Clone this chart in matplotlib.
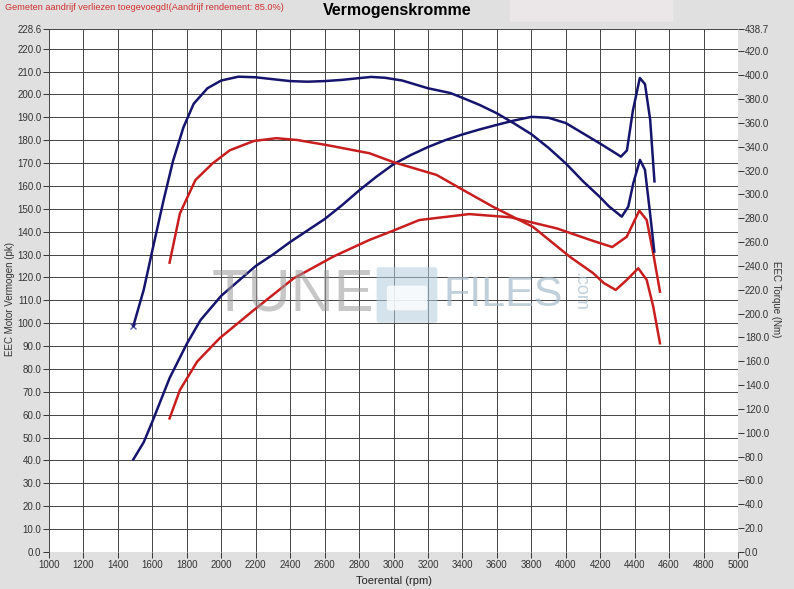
import numpy as np
import matplotlib
matplotlib.use("Agg")
import matplotlib.pyplot as plt
from matplotlib.patches import Rectangle, FancyBboxPatch

plt.rcParams['font.family'] = ['Liberation Sans', 'DejaVu Sans']

# tuned power (pk, left axis)
blue_pw_rpm = [1490, 1550, 1600, 1700, 1800, 1880, 2000, 2100, 2200, 2300, 2400, 2500,
               2600, 2700, 2800, 2900, 3000, 3100, 3200, 3300, 3400, 3500, 3600, 3700,
               3800, 3900, 4000, 4100, 4200, 4300, 4320, 4355, 4390, 4430, 4460, 4490, 4515]
blue_pw = [40.5, 48.0, 57.0, 76.0, 91.0, 101.4, 112.0, 118.5, 125.0, 130.0, 135.5, 140.5,
           145.5, 151.5, 158.0, 164.0, 169.5, 173.5, 177.0, 180.0, 182.5, 184.7, 186.7, 188.6,
           190.2, 189.8, 187.5, 183.0, 178.5, 173.8, 172.8, 175.5, 193.0, 207.2, 204.5, 189.0, 162.0]

# tuned torque (Nm, right axis)
blue_tq_rpm = [1490, 1550, 1600, 1665, 1720, 1780, 1840, 1920, 2000, 2100, 2200, 2300,
               2400, 2500, 2600, 2700, 2800, 2870, 2950, 3050, 3200, 3330, 3400, 3500,
               3600, 3700, 3800, 3900, 4000, 4100, 4200, 4250, 4325, 4363, 4392, 4431,
               4460, 4489, 4514]
blue_tq = [189.8, 220.0, 253.0, 295.0, 328.0, 356.0, 376.0, 389.0, 395.5, 398.7, 398.2, 396.6,
           395.0, 394.5, 395.0, 396.0, 397.5, 398.5, 397.8, 395.5, 389.0, 385.0, 381.0, 375.0,
           368.0, 359.5, 350.5, 339.0, 326.0, 311.0, 297.5, 290.0, 281.3, 289.7, 309.3, 328.9,
           320.5, 284.7, 252.0]

# stock power (pk, left axis)
red_pw_rpm = [1700, 1760, 1860, 1990, 2190, 2420, 2650, 2860, 3000, 3150, 3440, 3680,
              3950, 4150, 4270, 4354, 4427, 4470, 4508, 4547]
red_pw = [58.4, 70.8, 83.2, 93.4, 105.8, 119.6, 129.1, 136.4, 140.5, 145.1, 147.7, 146.3,
          141.4, 136.2, 133.3, 137.8, 149.2, 145.1, 130.5, 113.8]

# stock torque (Nm, right axis)
red_tq_rpm = [1700, 1760, 1850, 1950, 2050, 2190, 2320, 2440, 2610, 2860, 3000, 3250,
              3400, 3580, 3810, 4025, 4160, 4220, 4290, 4354, 4421, 4470, 4508, 4547]
red_tq = [242.7, 284.0, 312.0, 326.0, 337.0, 344.8, 347.1, 345.6, 341.4, 334.5, 327.0, 316.3,
          304.0, 289.4, 272.7, 247.5, 233.8, 225.7, 219.8, 228.2, 238.0, 228.2, 205.8, 175.1]

x_ticks = list(range(1000, 5001, 200))
left_ticks = list(range(0, 221, 10)) + [228.6]
right_ticks = list(range(0, 421, 20)) + [438.7]

bg = '#e0e0e0'
navy = '#15156e'
red = '#c81e1e'

fig = plt.figure(figsize=(7.94, 5.89), dpi=100, facecolor=bg)
ax = fig.add_axes([49 / 794, 37 / 589, 689 / 794, 523 / 589])
ax.set_facecolor('white')
for s in ax.spines.values():
    s.set_visible(False)

ax.set_xlim(1000, 5000)
ax.set_ylim(0, 228.6)
ax.set_xticks(x_ticks)
ax.set_yticks(left_ticks)
ax.set_yticklabels(['%.1f' % v for v in left_ticks])
ax.grid(True, color='#444444', linewidth=0.7)
ax.set_axisbelow(True)
ax.tick_params(axis='both', labelsize=7, colors='#333333', length=4, width=0.7)
ax.tick_params(axis='y', pad=1.5)
ax.tick_params(axis='x', pad=2)

ax2 = ax.twinx()
for s in ax2.spines.values():
    s.set_visible(False)
ax2.set_ylim(0, 438.7)
ax2.set_yticks(right_ticks)
ax2.set_yticklabels(['%.1f' % v for v in right_ticks])
ax2.tick_params(axis='y', labelsize=7, colors='#333333', length=4, width=0.7, pad=1)

# watermark
fig.text(212 / 794, 294 / 589, 'TUNE', fontsize=43, color='#9a9a9a', alpha=0.55,
         ha='left', va='center')
fig.patches.append(FancyBboxPatch((379 / 794, 268 / 589), 56 / 794, 52 / 589,
                                  boxstyle='round,pad=0.003', transform=fig.transFigure,
                                  facecolor='#b4cedd', edgecolor='none', alpha=0.55))
fig.patches.append(FancyBboxPatch((390 / 794, 281 / 589), 34 / 794, 20 / 589,
                                  boxstyle='round,pad=0.004', transform=fig.transFigure,
                                  facecolor='white', edgecolor='none', alpha=0.8))
fig.text(443 / 794, 294 / 589, 'FILES', fontsize=31, color='#a6bccb', alpha=0.7,
         ha='left', va='center')
fig.text(580 / 794, 298 / 589, '.com', fontsize=13, color='#a6bccb', alpha=0.7,
         ha='center', va='center', rotation=-90)

ax.plot(red_pw_rpm, red_pw, color=red, linewidth=1.8, zorder=3)
ax.plot(blue_pw_rpm, blue_pw, color=navy, linewidth=1.8, zorder=3)
ax2.plot(red_tq_rpm, red_tq, color=red, linewidth=1.8, zorder=3)
ax2.plot(blue_tq_rpm, blue_tq, color=navy, linewidth=1.8, zorder=3)
ax2.plot(blue_tq_rpm[:1], blue_tq[:1], 'x', color='#5555aa', markersize=4)

ax.set_xlabel('Toerental (rpm)', fontsize=8, color='#222222')
ax.xaxis.set_label_coords(0.5, -0.046)
fig.text(10 / 794, 290 / 589, 'EEC Motor Vermogen (pk)', rotation=90, fontsize=7,
         color='#333333', ha='center', va='center')
fig.text(776 / 794, 290 / 589, 'EEC Torque (Nm)', rotation=-90, fontsize=7,
         color='#333333', ha='center', va='center')

fig.patches.append(Rectangle((510 / 794, 567 / 589), 163 / 794, 22 / 589,
                             transform=fig.transFigure, facecolor='#ebe6e8',
                             edgecolor='none'))
fig.text(397 / 794, 578 / 589, 'Vermogenskromme', fontsize=11.5, fontweight='bold',
         ha='center', va='center')
fig.text(5 / 794, 581 / 589, 'Gemeten aandrijf verliezen toegevoegd!(Aandrijf rendement: 85.0%)',
         fontsize=6.6, color='#d03030', ha='left', va='center')

fig.savefig('out.png', dpi=100, facecolor=bg)
